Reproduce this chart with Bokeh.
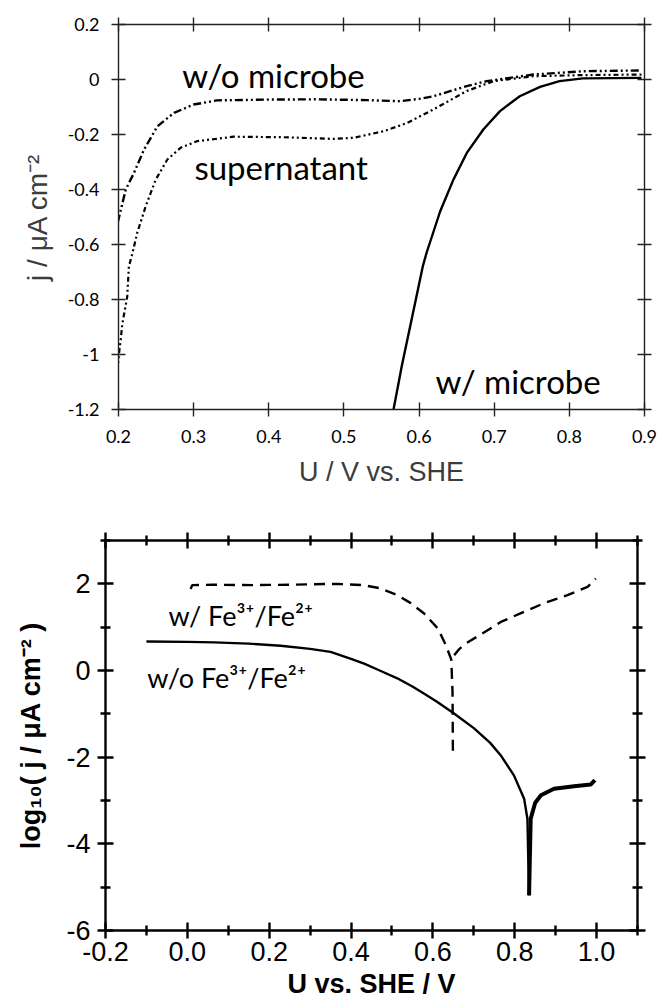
from bokeh.plotting import figure
from bokeh.models import Range1d, LinearAxis, FixedTicker, Label
from bokeh.embed import file_html
from bokeh.resources import INLINE

# ---------------- upper panel: current density vs potential ----------------
u_no_microbe = [0.199, 0.2097, 0.2207, 0.234, 0.2518, 0.274, 0.300, 0.331, 0.400,
                0.464, 0.531, 0.575, 0.601, 0.619, 0.6635, 0.690, 0.752, 0.818, 0.896]
j_no_microbe = [-0.52, -0.40, -0.339, -0.255, -0.170, -0.121, -0.091, -0.076, -0.073,
                -0.072, -0.075, -0.079, -0.070, -0.061, -0.024, -0.006, 0.018, 0.030, 0.033]

u_supernatant = [0.1985, 0.2005, 0.203, 0.205, 0.2116, 0.2138, 0.2187, 0.225, 0.2363,
                 0.2496, 0.265, 0.2827, 0.305, 0.3535, 0.420, 0.486, 0.513, 0.553,
                 0.584, 0.619, 0.6635, 0.699, 0.752, 0.818, 0.896]
j_supernatant = [-1.06, -1.00, -0.945, -0.89, -0.79, -0.68, -0.63, -0.557, -0.46,
                 -0.364, -0.291, -0.248, -0.224, -0.208, -0.210, -0.216, -0.212, -0.188,
                 -0.158, -0.109, -0.042, -0.006, 0.012, 0.016, 0.018]

u_microbe = [0.566, 0.577, 0.591, 0.605, 0.610, 0.628, 0.6457, 0.6635, 0.6855,
             0.7077, 0.734, 0.761, 0.787, 0.818, 0.896]
j_microbe = [-1.20, -1.042, -0.861, -0.679, -0.630, -0.480, -0.364, -0.267, -0.182,
             -0.115, -0.061, -0.027, -0.006, 0.004, 0.006]

top_x_ticks = [0.2, 0.3, 0.4, 0.5, 0.6, 0.7, 0.8, 0.9]
top_x_labels = ["0.2", "0.3", "0.4", "0.5", "0.6", "0.7", "0.8", "0.9"]
top_y_ticks = [-1.2, -1.0, -0.8, -0.6, -0.4, -0.2, 0.0, 0.2]
top_y_labels = ["-1.2", "-1", "-0.8", "-0.6", "-0.4", "-0.2", "0", "0.2"]

# ---------------- lower panel: Tafel plot ----------------
u_fe_left = [0.008, 0.012, 0.060, 0.162, 0.250, 0.366, 0.430, 0.470, 0.513, 0.545,
             0.578, 0.612, 0.632, 0.645, 0.648, 0.649]
log_fe_left = [1.88, 1.97, 1.98, 1.97, 1.98, 2.00, 1.97, 1.90, 1.74, 1.56,
               1.32, 0.97, 0.58, 0.25, -0.50, -2.00]
u_fe_right = [0.652, 0.665, 0.680, 0.720, 0.766, 0.814, 0.871, 0.929, 0.978, 0.998]
log_fe_right = [0.35, 0.50, 0.62, 0.85, 1.12, 1.32, 1.55, 1.74, 1.93, 2.12]

u_bare_cath = [-0.10, 0.00, 0.065, 0.15, 0.228, 0.30, 0.35, 0.40, 0.432, 0.47, 0.513,
               0.55, 0.578, 0.61, 0.65, 0.70, 0.74, 0.766, 0.798, 0.823, 0.831, 0.835]
log_bare_cath = [0.67, 0.66, 0.65, 0.62, 0.57, 0.50, 0.43, 0.27, 0.16, 0.00, -0.18,
                 -0.37, -0.53, -0.72, -0.98, -1.33, -1.67, -1.96, -2.42, -2.96, -3.42, -5.19]
u_bare_anod = [0.835, 0.839, 0.850, 0.864, 0.896, 0.945, 0.986, 0.996]
log_bare_anod = [-5.19, -3.42, -3.05, -2.88, -2.73, -2.67, -2.63, -2.53]

bot_x_ticks = [-0.2, 0.0, 0.2, 0.4, 0.6, 0.8, 1.0]
bot_x_labels = ["-0.2", "0.0", "0.2", "0.4", "0.6", "0.8", "1.0"]
bot_x_minor = [-0.1, 0.1, 0.3, 0.5, 0.7, 0.9, 1.1]
bot_y_ticks = [-6, -4, -2, 0, 2]
bot_y_labels = ["-6", "-4", "-2", "0", "2"]
bot_y_minor = [-5, -3, -1, 1, 3]


def frame_axes(p, xt, xl, xm, yt, yl, ym, font, size, color, lw, tmaj, tmin, xstand, ystand):
    """Axes on all four sides with ticks crossing the frame; labels only bottom/left."""
    made = {}
    for loc, ticks, labels, minor, stand in (("below", xt, xl, xm, xstand),
                                             ("left", yt, yl, ym, ystand),
                                             ("above", xt, None, xm, 0),
                                             ("right", yt, None, ym, 0)):
        ax = LinearAxis(ticker=FixedTicker(ticks=ticks, minor_ticks=minor))
        ax.axis_line_width = lw
        ax.axis_line_color = color
        ax.major_tick_line_width = lw
        ax.minor_tick_line_width = lw
        ax.major_tick_line_color = color
        ax.minor_tick_line_color = color
        ax.major_tick_in = tmaj
        ax.major_tick_out = tmaj
        ax.minor_tick_in = tmin
        ax.minor_tick_out = tmin
        if labels is None:
            ax.major_label_overrides = {t: "" for t in ticks}
            ax.major_label_text_font_size = "0px"
            ax.major_label_standoff = 0
        else:
            ax.major_label_overrides = dict(zip(ticks, labels))
            ax.major_label_text_font = font
            ax.major_label_text_font_size = size
            ax.major_label_text_color = "black"
            ax.major_label_standoff = stand
        p.add_layout(ax, loc)
        made[loc] = ax
    return made


# ---- upper figure ----
top = figure(width=657, height=500, x_range=Range1d(0.2, 0.9), y_range=Range1d(-1.2, 0.2),
             x_axis_type=None, y_axis_type=None, output_backend="svg", toolbar_location=None,
             min_border_left=118, min_border_right=13, min_border_top=24, min_border_bottom=91)
top.outline_line_color = None
top.grid.visible = False
top.background_fill_color = "white"
top.border_fill_color = "white"
ax_top = frame_axes(top, top_x_ticks, top_x_labels, [], top_y_ticks, top_y_labels, [],
                    "Lato", "18px", "#222222", 1.4, 7, 0, 13, 12)

for loc, text in (("below", "U / V vs. SHE"), ("left", "j / μA cm⁻²")):
    ax = ax_top[loc]
    ax.axis_label = text
    ax.axis_label_text_font = "Liberation Sans"
    ax.axis_label_text_font_size = "27px"
    ax.axis_label_text_font_style = "normal"
    ax.axis_label_text_color = "#3c3c3c"
ax_top["left"].axis_label_text_font_size = "28px"
ax_top["below"].axis_label_standoff = 11
ax_top["left"].axis_label_standoff = 12

top.line(u_no_microbe, j_no_microbe, line_color="black", line_width=2.4, line_dash="8 3 2 3 2 3")
top.line(u_supernatant, j_supernatant, line_color="black", line_width=2.2, line_dash="5 3 2 3 2 3")
top.line(u_microbe, j_microbe, line_color="black", line_width=2.4)

big = dict(text_font="Lato", text_font_size="33px", text_color="black",
           text_align="left", text_baseline="alphabetic")
top.add_layout(Label(x=0.285, y=0.016, text="w/o microbe", **big))
top.add_layout(Label(x=0.301, y=-0.319, text="supernatant", **big))
top.add_layout(Label(x=0.622, y=-1.098, text="w/ microbe", **big))

# ---- lower figure ----
bot = figure(width=657, height=503, x_range=Range1d(-0.2, 1.1), y_range=Range1d(-6, 3),
             x_axis_type=None, y_axis_type=None, output_backend="svg", toolbar_location=None,
             min_border_left=105, min_border_right=20, min_border_top=40, min_border_bottom=73)
bot.outline_line_color = None
bot.grid.visible = False
bot.background_fill_color = "white"
bot.border_fill_color = "white"
ax_bot = frame_axes(bot, bot_x_ticks, bot_x_labels, bot_x_minor, bot_y_ticks, bot_y_labels,
                    bot_y_minor, "Liberation Sans", "27px", "black", 2.4, 8, 5, 3, 7)

for loc, text in (("below", "U vs. SHE / V"), ("left", "log₁₀( j / μA cm⁻² )")):
    ax = ax_bot[loc]
    ax.axis_label = text
    ax.axis_label_text_font = "Liberation Sans"
    ax.axis_label_text_font_size = "27px"
    ax.axis_label_text_font_style = "bold"
    ax.axis_label_text_color = "black"
ax_bot["below"].axis_label_standoff = 5
ax_bot["left"].axis_label_standoff = 17

bot.line(u_fe_left, log_fe_left, line_color="black", line_width=2.4, line_dash="11 7")
bot.line(u_fe_right, log_fe_right, line_color="black", line_width=2.4, line_dash="11 7")
bot.line(u_bare_cath, log_bare_cath, line_color="black", line_width=2.4)
bot.line(u_bare_anod, log_bare_anod, line_color="black", line_width=4.0)

lab = dict(text_font="Lato", text_font_size="27px", text_color="black",
           text_align="left", text_baseline="alphabetic")
bot.add_layout(Label(x=-0.046, y=1.269, text="w/ Fe³⁺/Fe²⁺", **lab))
bot.add_layout(Label(x=-0.098, y=-0.162, text="w/o Fe³⁺/Fe²⁺", **lab))

# two independent roots so each panel keeps its own frame geometry
open("out.html", "w").write(file_html([top, bot], INLINE))
